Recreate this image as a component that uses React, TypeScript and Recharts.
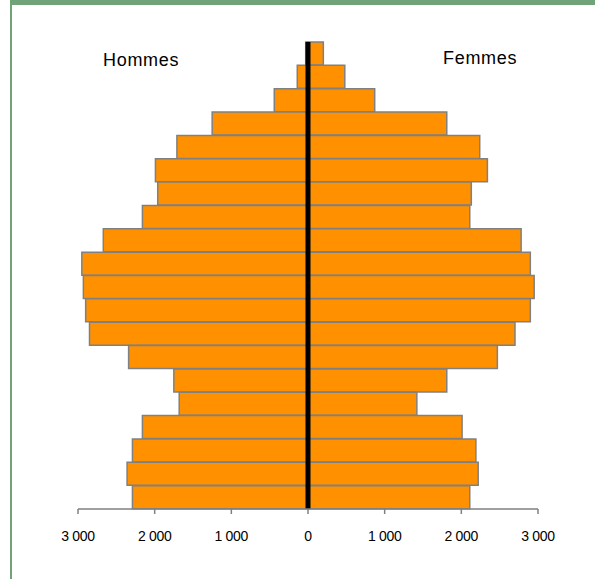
import React from 'react';
import { BarChart, Bar, XAxis, YAxis, ReferenceLine } from 'recharts';

// age groups, oldest at the top
const ageGroups = [
  '95+', '90-94', '85-89', '80-84', '75-79', '70-74', '65-69', '60-64', '55-59', '50-54',
  '45-49', '40-44', '35-39', '30-34', '25-29', '20-24', '15-19', '10-14', '5-9', '0-4'
];
const hommes = [
  30, 140, 440, 1250, 1710, 1990, 1960, 2160, 2670, 2950,
  2930, 2900, 2850, 2340, 1750, 1680, 2160, 2290, 2360, 2290
];
const femmes = [
  200, 480, 870, 1810, 2240, 2340, 2130, 2110, 2780, 2900,
  2950, 2900, 2700, 2470, 1810, 1420, 2010, 2190, 2220, 2110
];
const xTicks = [-3000, -2000, -1000, 0, 1000, 2000, 3000];

const data = ageGroups.map((age, i) => ({
  age,
  hommes: -hommes[i],
  femmes: femmes[i]
}));

const fmt = (v: number) => {
  const s = String(Math.abs(v));
  return s.replace(/\B(?=(\d{3})+(?!\d))/g, '\u00a0');
};

const FONT = '"Liberation Sans", Arial, sans-serif';

const Tick = (props: any) => {
  const { x, y, payload } = props;
  return (
    <text x={x} y={y} dy={25} textAnchor="middle" fill="#000" fontSize={14} fontFamily={FONT} letterSpacing={-0.3}>
      {fmt(payload.value)}
    </text>
  );
};

const labelStyle: React.CSSProperties = {
  position: 'absolute',
  fontFamily: FONT,
  fontSize: 18,
  lineHeight: '18px',
  letterSpacing: 0.7,
  color: '#000'
};

export default function App() {
  return (
    <div style={{ position: 'absolute', left: 0, top: 0, width: 595, height: 579, background: '#fff', overflow: 'hidden' }}>
      <div
        style={{
          position: 'absolute',
          left: 10,
          top: 0,
          width: 585,
          height: 579,
          boxSizing: 'border-box',
          borderTop: '5px solid #70A478',
          borderLeft: '2px solid #70A478'
        }}
      />
      <BarChart
        width={595}
        height={579}
        data={data}
        layout="vertical"
        stackOffset="sign"
        barCategoryGap={0}
        margin={{ top: 42, right: 57, bottom: 40, left: 78 }}
        style={{ position: 'absolute', left: 0, top: 0 }}
      >
        <XAxis
          type="number"
          domain={[-3000, 3000]}
          ticks={xTicks}
          height={30}
          tickSize={5}
          stroke="#808080"
          strokeWidth={1.5}
          tick={<Tick />}
          interval={0}
        />
        <YAxis type="category" dataKey="age" hide />
        <Bar dataKey="hommes" stackId="a" fill="#FF9000" stroke="#808080" strokeWidth={1.5} isAnimationActive={false} />
        <Bar dataKey="femmes" stackId="a" fill="#FF9000" stroke="#808080" strokeWidth={1.5} isAnimationActive={false} />
        <ReferenceLine x={0} stroke="#000" strokeWidth={5} />
      </BarChart>
      <div style={{ ...labelStyle, left: 103, top: 51 }}>Hommes</div>
      <div style={{ ...labelStyle, left: 443, top: 49 }}>Femmes</div>
    </div>
  );
}
